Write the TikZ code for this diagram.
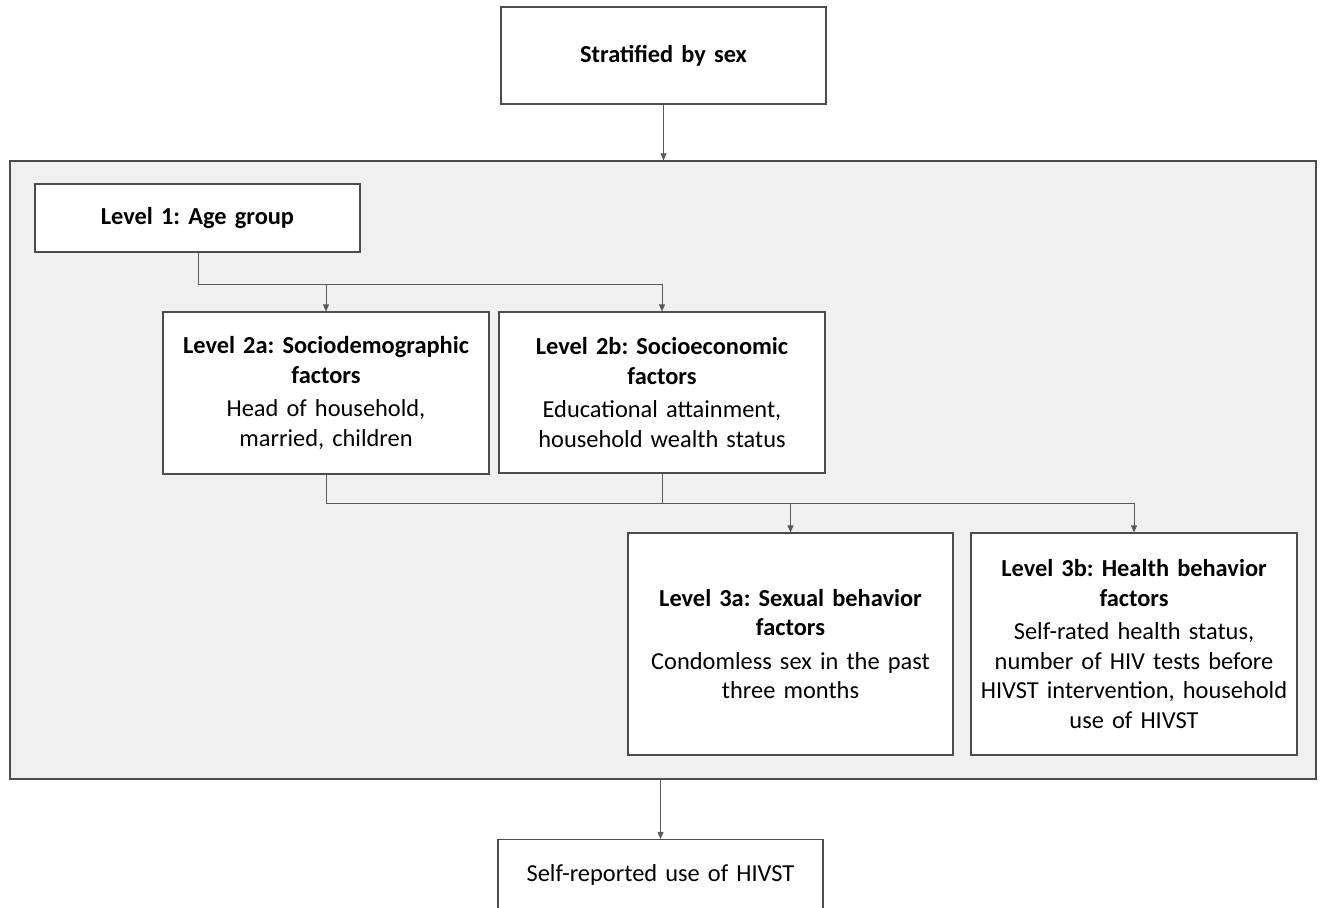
\documentclass[tikz,border=0pt]{standalone}
\usepackage{fontspec}
\setmainfont[WordSpace=0.8]{Carlito}
\usepackage{tikz}
\usetikzlibrary{arrows.meta}
\frenchspacing

\begin{document}
\begin{tikzpicture}[
x=1pt,y=-1pt,
box/.style={rectangle, draw=black!70, line width=1.2pt, fill=white, align=center, text width=320pt, inner sep=0pt, font=\fontsize{24.4}{29.5}\selectfont},
panel/.style={rectangle, draw=black!70, line width=1.2pt, fill=black!6, minimum width=1306pt, minimum height=618pt},
route/.style={-{Triangle[length=7pt,width=6pt]}, line width=0.9pt, black!65},
link/.style={line width=0.9pt, black!65},
]
\useasboundingbox (0,0) rectangle (1321,907);

%background panel
\node(pan)[panel] at (663,470){};

%boxes
\node(strat)[box, minimum width=325pt, minimum height=97pt] at (663.5,55.5){\textbf{Stratified by sex}};
\node(lvl1)[box, minimum width=325pt, minimum height=68pt] at (197.5,218){\textbf{Level 1: Age group}};
\node(lvl2a)[box, minimum width=326pt, minimum height=162pt] at (326,393){\textbf{Level 2a: Sociodemographic}\\\textbf{factors}\\[4pt]Head of household,\\married, children};
\node(lvl2b)[box, minimum width=326pt, minimum height=161pt] at (662,392.5){\textbf{Level 2b: Socioeconomic}\\\textbf{factors}\\[4pt]Educational attainment,\\household wealth status};
\node(lvl3a)[box, minimum width=325pt, minimum height=222pt] at (790.5,644){\textbf{Level 3a: Sexual behavior}\\\textbf{factors}\\[4pt]Condomless sex in the past\\three months};
\node(lvl3b)[box, minimum width=326pt, minimum height=222pt] at (1134,644){\textbf{Level 3b: Health behavior}\\\textbf{factors}\\[4pt]Self-rated health status,\\number of HIV tests before\\HIVST intervention, household\\use of HIVST};
\node(out)[box, minimum width=325pt, minimum height=97pt] at (660.5,888){Self-reported use of HIVST\\\mbox{}};

%junction points
\coordinate(j1) at (198,284);
\coordinate(j2) at (326,503);

%connectors
\draw[route] (strat.south) -- (pan.north -| strat.south);
\draw[link] (lvl1.south -| j1) -- (j1) -- (j1 -| lvl2b.north);
\draw[route] (j1 -| lvl2a.north) -- (lvl2a.north);
\draw[route] (j1 -| lvl2b.north) -- (lvl2b.north);
\draw[link] (lvl2a.south) -- (j2) -- (j2 -| lvl3b.north);
\draw[link] (lvl2b.south) -- (j2 -| lvl2b.south);
\draw[route] (j2 -| lvl3a.north) -- (lvl3a.north);
\draw[route] (j2 -| lvl3b.north) -- (lvl3b.north);
\draw[route] (pan.south -| out.north) -- (out.north);

\end{tikzpicture}
\end{document}
